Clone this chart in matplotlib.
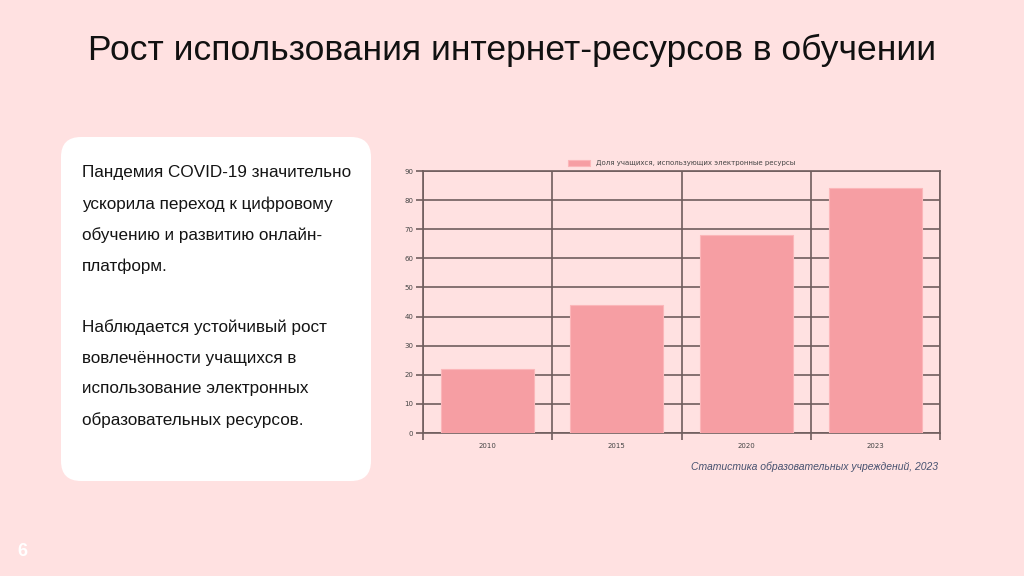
import numpy as np
import matplotlib
matplotlib.use('Agg')
import matplotlib.pyplot as plt
from matplotlib.patches import FancyBboxPatch

# данные графика
years = ['2010', '2015', '2020', '2023']
share = [22, 44, 68, 84]
y_ticks = list(range(0, 100, 10))

title = 'Рост использования интернет-ресурсов в обучении'
legend_label = 'Доля учащихся, использующих электронные ресурсы'
source = 'Статистика образовательных учреждений, 2023'
paragraph_1 = ['Пандемия COVID-19 значительно', 'ускорила переход к цифровому',
               'обучению и развитию онлайн-', 'платформ.']
paragraph_2 = ['Наблюдается устойчивый рост', 'вовлечённости учащихся в',
               'использование электронных', 'образовательных ресурсов.']

bg = '#ffe1e1'
bar_color = '#f69ea3'
grid_color = '#6f5e5e'

W, H = 1024, 576
fig = plt.figure(figsize=(W / 100, H / 100), dpi=100, facecolor=bg)

# слой для оформления слайда в пиксельных координатах
deco = fig.add_axes([0, 0, 1, 1])
deco.set_xlim(0, W)
deco.set_ylim(H, 0)
deco.axis('off')

deco.text(512, 50, title, ha='center', va='center', fontsize=25.5,
          family='Liberation Sans', color='#111111')

box = FancyBboxPatch((61 + 20, 137 + 20), 310 - 40, 344 - 40,
                     boxstyle='round,pad=20', facecolor='white', edgecolor='none')
deco.add_patch(box)

for i, line in enumerate(paragraph_1):
    deco.text(82, 173 + i * 31, line, ha='left', va='center', fontsize=12.3,
              family='Liberation Sans', color='#141414')
for i, line in enumerate(paragraph_2):
    deco.text(82, 327 + i * 31, line, ha='left', va='center', fontsize=12.3,
              family='Liberation Sans', color='#141414')

deco.text(22, 551, '6', ha='center', va='center', fontsize=13, fontweight='bold',
          family='Liberation Sans', color='white')

deco.text(938, 467, source, ha='right', va='center', fontsize=7.5, style='italic',
          family='Liberation Sans', color='#475270')

# столбчатая диаграмма
ax = fig.add_axes([423 / W, (H - 433) / H, (940 - 423) / W, (433 - 171) / H])
ax.set_facecolor(bg)
x = np.arange(len(years))
ax.bar(x, share, width=0.72, color=bar_color, edgecolor='#fbb6b9', linewidth=0.8,
       label=legend_label, zorder=3)

ax.set_xlim(-0.5, len(years) - 0.5)
ax.set_ylim(0, 90)
ax.set_yticks(y_ticks)
ax.set_xticks(x)
ax.set_xticklabels(years)
ax.set_xticks(np.arange(-0.5, len(years), 1), minor=True)

ax.tick_params(axis='x', which='major', length=0, pad=7, labelsize=5, labelcolor='#444444')
ax.tick_params(axis='x', which='minor', length=5, width=1.2, color=grid_color)
ax.tick_params(axis='y', length=5, width=1.2, color=grid_color, pad=2,
               labelsize=5, labelcolor='#444444')

ax.grid(True, axis='y', which='major', color=grid_color, linewidth=1.2, zorder=1)
ax.grid(True, axis='x', which='minor', color=grid_color, linewidth=1.2, zorder=1)
for s in ax.spines.values():
    s.set_color(grid_color)
    s.set_linewidth(1.2)

ax.legend(loc='lower center', bbox_to_anchor=(0.5, 1.0), frameon=False, fontsize=5,
          handlelength=3.2, handleheight=1.0, borderaxespad=0.3, labelcolor='#444444')

fig.savefig('out.png', dpi=100, facecolor=bg)
